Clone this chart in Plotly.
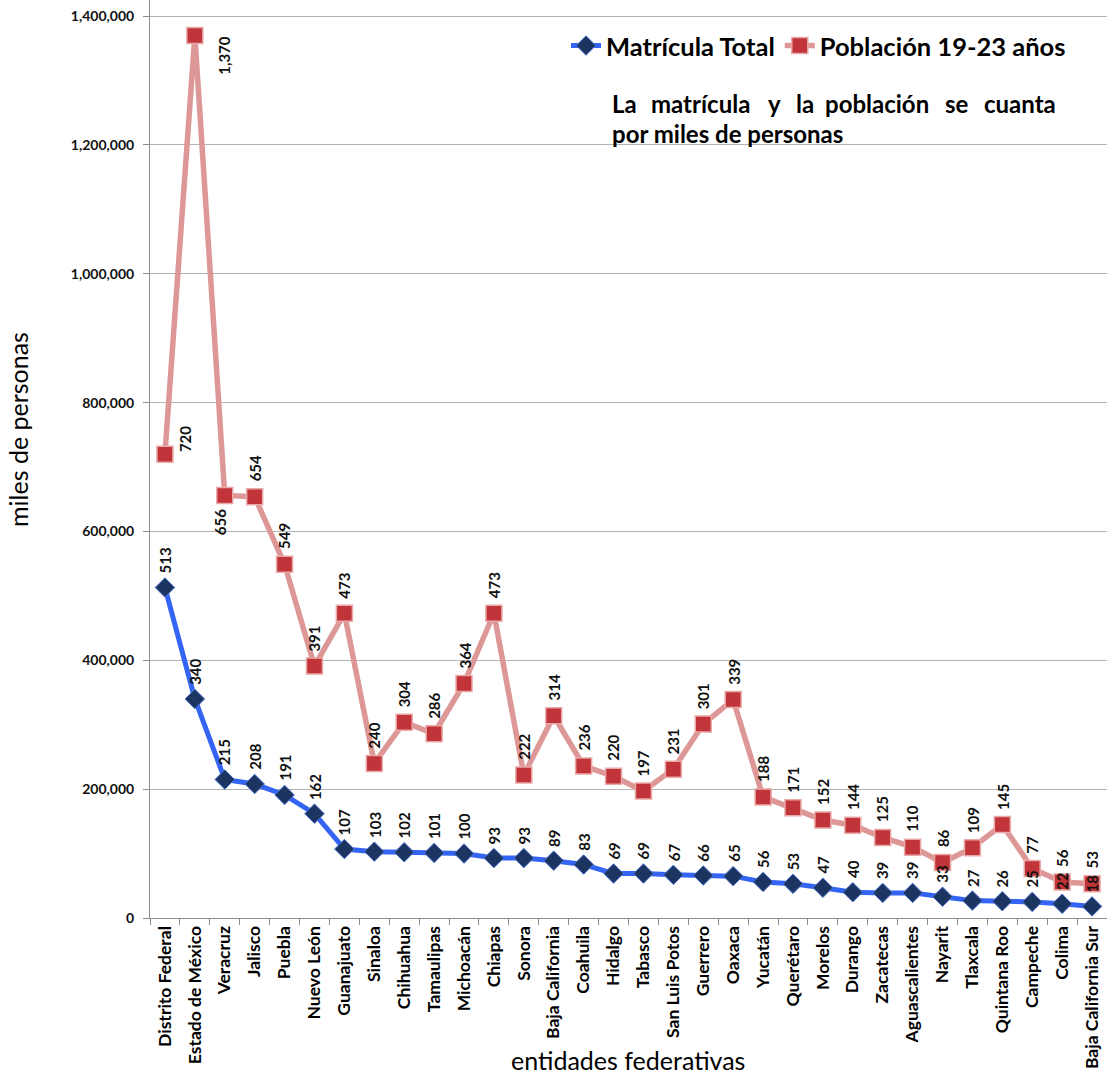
import plotly.graph_objects as go

# Entidades federativas ordenadas por matrícula
entidades = [
    "Distrito Federal", "Estado de México", "Veracruz", "Jalisco", "Puebla",
    "Nuevo León", "Guanajuato", "Sinaloa", "Chihuahua", "Tamaulipas",
    "Michoacán", "Chiapas", "Sonora", "Baja California", "Coahuila",
    "Hidalgo", "Tabasco", "San Luis Potos", "Guerrero", "Oaxaca",
    "Yucatán", "Querétaro", "Morelos", "Durango", "Zacatecas",
    "Aguascalientes", "Nayarit", "Tlaxcala", "Quintana Roo", "Campeche",
    "Colima", "Baja California Sur",
]

# Valores en miles de personas
matricula_miles = [
    513, 340, 215, 208, 191, 162, 107, 103, 102, 101, 100, 93, 93, 89, 83,
    69, 69, 67, 66, 65, 56, 53, 47, 40, 39, 39, 33, 27, 26, 25, 22, 18,
]
poblacion_miles = [
    720, 1370, 656, 654, 549, 391, 473, 240, 304, 286, 364, 473, 222, 314,
    236, 220, 197, 231, 301, 339, 188, 171, 152, 144, 125, 110, 86, 109,
    145, 77, 56, 53,
]

y_ticks = [0, 200000, 400000, 600000, 800000, 1000000, 1200000, 1400000]

matricula = [v * 1000 for v in matricula_miles]
poblacion = [v * 1000 for v in poblacion_miles]

FONT = "Lato"
L, R, T, B = 150, 0, 0, 156
W, H = 1107, 1074
PW = W - L - R
PH = H - T - B


def px(x):
    return (x - L) / PW


def py(y):
    return 1 - (y - T) / PH


fig = go.Figure()

fig.add_trace(go.Scatter(
    x=entidades, y=matricula, mode="lines+markers", name="Matrícula Total",
    line=dict(color="#3464f4", width=5),
    marker=dict(symbol="diamond", size=15, color="#1c3460",
                line=dict(color="#4a6fd0", width=1)),
))
fig.add_trace(go.Scatter(
    x=entidades, y=poblacion, mode="lines+markers", name="Población 19-23 años",
    line=dict(color="#dc9796", width=5.5),
    marker=dict(symbol="square", size=16, color="#c1353a",
                line=dict(color="#e9a9a8", width=1.5)),
))

annotations = []
label_font = dict(family=FONT, size=15, color="#111111", weight="bold")

# Etiquetas de la matrícula (encima de cada punto)
for ent, v, m in zip(entidades, matricula, matricula_miles):
    annotations.append(dict(
        x=ent, y=v, xref="x", yref="y", text=f"{m:,}", showarrow=False,
        textangle=-90, xanchor="center", yanchor="bottom", yshift=12,
        font=label_font,
    ))

# Etiquetas de la población; algunas desplazadas a un lado
special = {
    0: dict(xshift=20, yanchor="bottom", yshift=0),
    1: dict(xshift=29, yanchor="top", yshift=2),
    2: dict(xshift=-4, yanchor="top", yshift=-12),
}
for i, (ent, v, p) in enumerate(zip(entidades, poblacion, poblacion_miles)):
    opts = dict(xshift=0, yanchor="bottom", yshift=13)
    opts.update(special.get(i, {}))
    annotations.append(dict(
        x=ent, y=v, xref="x", yref="y", text=f"{p:,}", showarrow=False,
        textangle=-90, xanchor="center", font=label_font, **opts,
    ))

# Nota explicativa (primer renglón justificado palabra por palabra)
note_font = dict(family=FONT, size=24, color="#000000", weight="bold")
line1 = [("La", 610), ("matrícula", 649), ("y", 766), ("la", 794),
         ("población", 823), ("se", 943), ("cuanta", 982)]
for word, xpos in line1:
    annotations.append(dict(
        x=px(xpos), y=py(104), xref="paper", yref="paper", text=word,
        showarrow=False, xanchor="left", yanchor="middle", font=note_font,
    ))
annotations.append(dict(
    x=px(610), y=py(133), xref="paper", yref="paper",
    text="por miles de personas", showarrow=False, xanchor="left",
    yanchor="middle", font=note_font,
))

# Títulos de los ejes
annotations.append(dict(
    x=px(18), y=py(430), xref="paper", yref="paper", text="miles de personas",
    showarrow=False, textangle=-90, xanchor="center", yanchor="middle",
    font=dict(family=FONT, size=25, color="#000000"),
))
annotations.append(dict(
    x=px(628), y=py(1060), xref="paper", yref="paper",
    text="entidades federativas", showarrow=False, xanchor="center",
    yanchor="middle", font=dict(family=FONT, size=25, color="#000000"),
))

fig.update_layout(
    width=W, height=H,
    margin=dict(l=L, r=R, t=T, b=B),
    paper_bgcolor="white", plot_bgcolor="white",
    font=dict(family=FONT, color="#000000"),
    showlegend=True,
    legend=dict(
        orientation="h", x=px(566), y=py(46), xanchor="left", yanchor="middle",
        font=dict(family=FONT, size=25.5, color="#000000", weight="bold"),
        bgcolor="rgba(0,0,0,0)", itemwidth=30, tracegroupgap=0,
    ),
    annotations=annotations,
    xaxis=dict(
        type="category", tickangle=-90, tickson="boundaries",
        ticks="outside", ticklen=6, tickcolor="#8c8c8c",
        showline=True, linecolor="#8c8c8c", linewidth=1,
        showgrid=False, zeroline=False,
        tickfont=dict(family=FONT, size=17.5, color="#000000", weight="bold"),
        range=[-0.5, 31.5],
    ),
    yaxis=dict(
        range=[0, 1425000], tickvals=y_ticks,
        ticktext=[f"{v:,}" for v in y_ticks],
        ticks="outside", ticklen=6, tickcolor="#8c8c8c",
        showline=True, linecolor="#8c8c8c", linewidth=1,
        showgrid=True, gridcolor="#b3b3b3", gridwidth=1, zeroline=False,
        tickfont=dict(family=FONT, size=14, color="#111111", weight="bold"),
        ticklabelstandoff=6,
    ),
)

fig.write_html("out.html")
